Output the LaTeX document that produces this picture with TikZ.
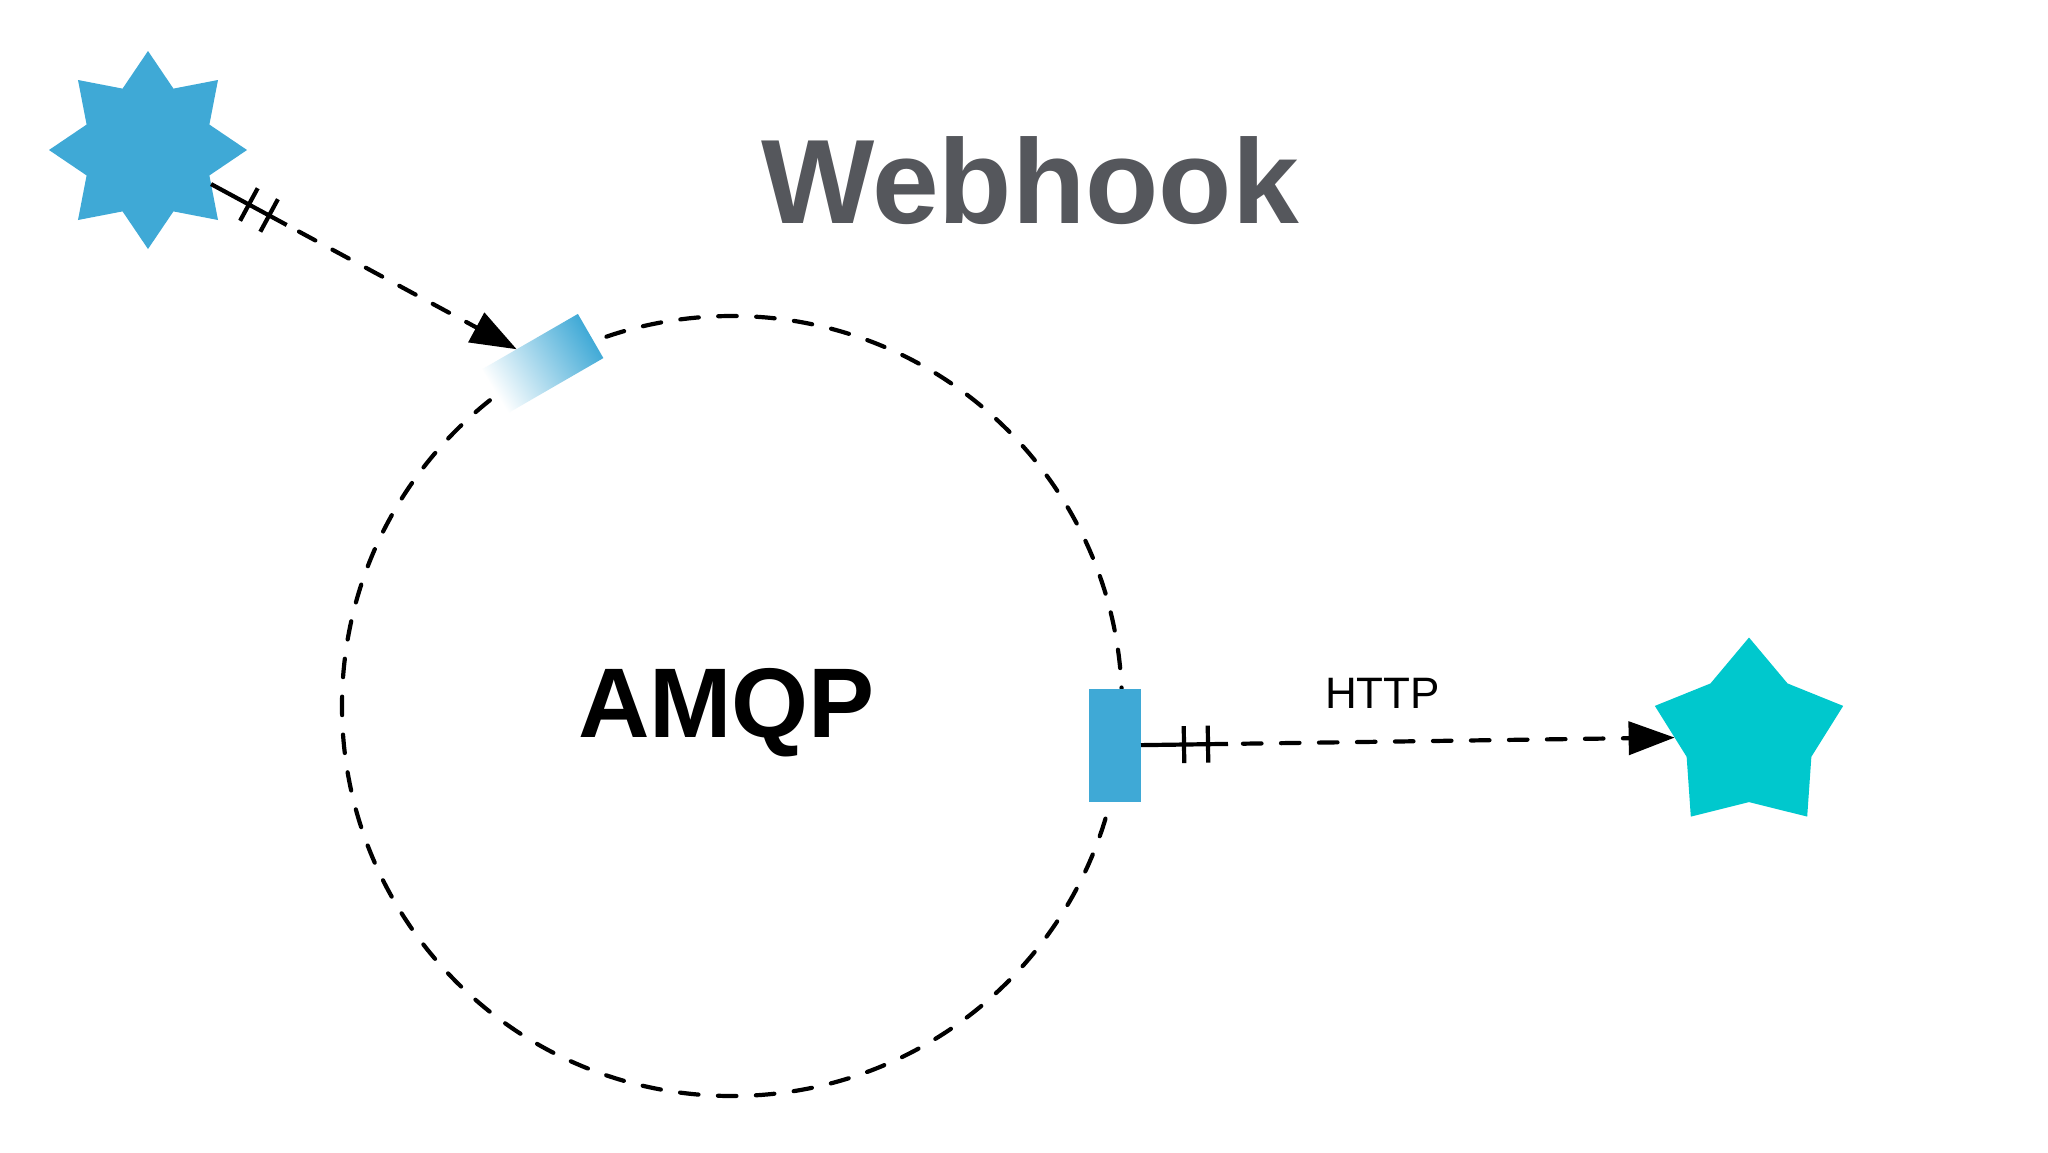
\documentclass[tikz,border=0pt]{standalone}
\usepackage{fontspec}
\setmainfont{Liberation Sans}
\usetikzlibrary{shapes.geometric,calc,arrows.meta}
\definecolor{starblue}{RGB}{63,169,214}
\definecolor{starteal}{RGB}{0,200,205}
\definecolor{titlegray}{RGB}{85,87,92}
\begin{document}
\begin{tikzpicture}[x=1pt,y=-1pt,
  conn/.style={line width=4.2pt, draw=black},
  dashconn/.style={conn, line cap=round, dash pattern=on 18.5pt off 19.5pt},
  tipstyle/.style={-{Triangle[length=46pt,width=33pt]}},
  starnode/.style={star, inner sep=0pt, outer sep=0pt, minimum size=198pt, draw=none},
  portbox/.style={rectangle, inner sep=0pt, outer sep=0pt, draw=none}]
\fill[white] (0,0) rectangle (2048,1152);
\useasboundingbox (0,0) rectangle (2048,1152);

% AMQP ring
\node[circle, dashconn, minimum size=780pt, inner sep=0pt] (ring) at (732,706) {};
\node[font=\fontsize{99}{110}\selectfont\bfseries, anchor=base, inner sep=0pt] (amqp) at (726.5,737) {AMQP};

% title
\node[font=\fontsize{120}{130}\selectfont\bfseries, text=titlegray, anchor=base, inner sep=0pt] (title) at (1030,223) {Webhook};

% ports
\node[portbox, minimum width=110pt, minimum height=51pt, rotate=30,
      top color=starblue, bottom color=white, shading angle=-58] (inport) at (543,363.5) {};
\node[portbox, fill=starblue, minimum width=52pt, minimum height=113pt] (outport) at (1115,745.5) {};

% stars
\node[starnode, star points=8, star point ratio=1.49, fill=starblue] (source) at (148,150) {};
\node[starnode, star points=5, star point ratio=1.51, fill=starteal] (target) at (1749,736.5) {};

% connector 1
\path (source) -- coordinate[pos=0] (c1s) coordinate[pos=1] (c1e) (inport);
\coordinate (c1ta) at ($(c1s)!43pt!(c1e)$);
\coordinate (c1tb) at ($(c1s)!66pt!(c1e)$);
\draw[conn] (c1s) -- ($(c1s)!86pt!(c1e)$);
\draw[conn] ($(c1ta)!18.5pt!90:(c1e)$) -- ($(c1ta)!18.5pt!-90:(c1e)$);
\draw[conn] ($(c1tb)!18.5pt!90:(c1e)$) -- ($(c1tb)!18.5pt!-90:(c1e)$);
\draw[dashconn, tipstyle] ($(c1s)!100pt!(c1e)$) -- (c1e);

% connector 2
\path (outport) -- coordinate[pos=0] (c2s) coordinate[pos=1] (c2e) (target);
\coordinate (c2ta) at ($(c2s)!43pt!(c2e)$);
\coordinate (c2tb) at ($(c2s)!67pt!(c2e)$);
\draw[conn] (c2s) -- ($(c2s)!87pt!(c2e)$);
\draw[conn] ($(c2ta)!18.5pt!90:(c2e)$) -- ($(c2ta)!18.5pt!-90:(c2e)$);
\draw[conn] ($(c2tb)!18.5pt!90:(c2e)$) -- ($(c2tb)!18.5pt!-90:(c2e)$);
\draw[dashconn, tipstyle] ($(c2s)!102pt!(c2e)$) -- (c2e);
\node[font=\fontsize{44}{50}\selectfont, anchor=base, inner sep=0pt] (http) at (1382.5,708) {HTTP};
\end{tikzpicture}
\end{document}
